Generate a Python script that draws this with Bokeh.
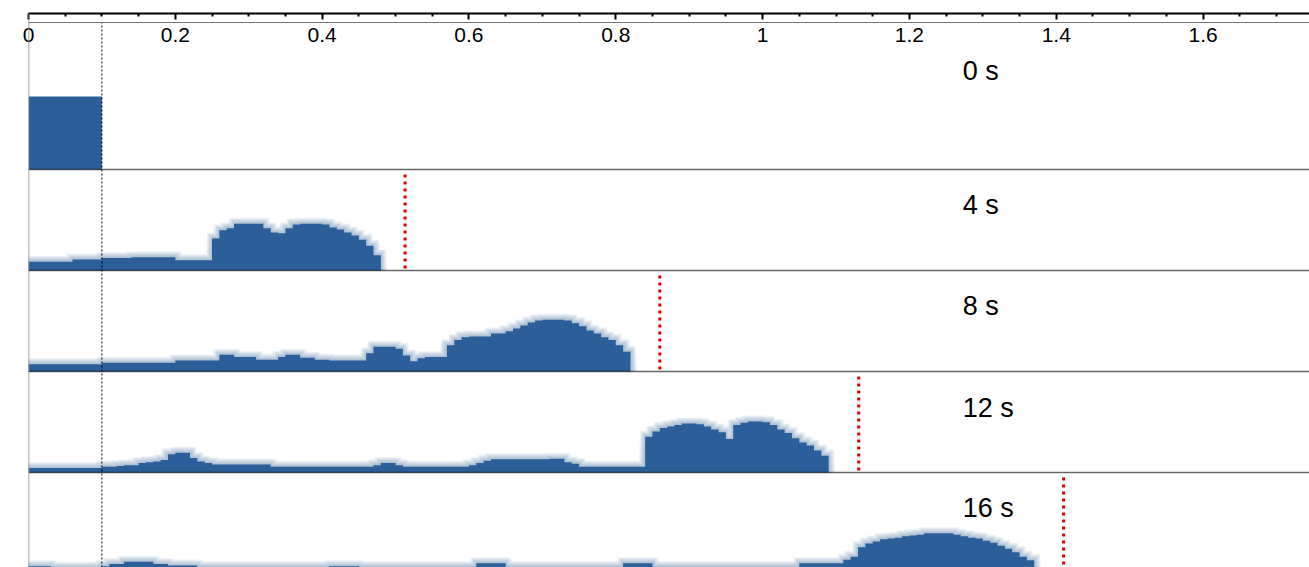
import numpy as np
from bokeh.plotting import figure
from bokeh.models import Range1d, Span, FixedTicker
from bokeh.core.properties import value
from bokeh.embed import file_html
from bokeh.resources import INLINE

# ---------------------------------------------------------------------------
# Data: concentration profiles (histogram bins of width 0.01, normalised so
# that the initial pulse has height 1) at successive times.
# ---------------------------------------------------------------------------
bin_width = 0.01
injection_end = 0.1
time_labels = ["0 s", "4 s", "8 s", "12 s", "16 s"]

conc_0s = [1.0, 1.0, 1.0, 1.0, 1.0, 1.0, 1.0, 1.0, 1.0, 1.0]

conc_4s = [
    0.12, 0.12, 0.12, 0.12, 0.12, 0.12, 0.15, 0.15, 0.15, 0.15,
    0.17, 0.17, 0.17, 0.17, 0.18, 0.18, 0.18, 0.18, 0.18, 0.18,
    0.14, 0.14, 0.14, 0.14, 0.14, 0.44, 0.55, 0.58, 0.64, 0.64,
    0.64, 0.64, 0.58, 0.52, 0.51, 0.58, 0.63, 0.64, 0.64, 0.64,
    0.63, 0.59, 0.56, 0.52, 0.48, 0.42, 0.34, 0.21,
]

conc_8s = [
    0.10, 0.10, 0.10, 0.10, 0.10, 0.10, 0.10, 0.10, 0.10, 0.10,
    0.12, 0.12, 0.12, 0.12, 0.12, 0.12, 0.12, 0.12, 0.12, 0.12,
    0.15, 0.15, 0.15, 0.15, 0.15, 0.15, 0.23, 0.23, 0.20, 0.20,
    0.20, 0.16, 0.16, 0.16, 0.20, 0.23, 0.23, 0.19, 0.19, 0.16,
    0.16, 0.15, 0.15, 0.15, 0.15, 0.15, 0.25, 0.34, 0.34, 0.34,
    0.31, 0.22, 0.14, 0.18, 0.20, 0.20, 0.20, 0.36, 0.43, 0.47,
    0.48, 0.48, 0.48, 0.52, 0.52, 0.55, 0.59, 0.63, 0.67, 0.70,
    0.71, 0.71, 0.71, 0.70, 0.66, 0.62, 0.56, 0.52, 0.47, 0.43,
    0.36, 0.27,
]

conc_12s = [
    0.06, 0.06, 0.06, 0.06, 0.06, 0.06, 0.06, 0.06, 0.06, 0.06,
    0.08, 0.08, 0.09, 0.10, 0.10, 0.13, 0.14, 0.15, 0.17, 0.25,
    0.27, 0.27, 0.20, 0.15, 0.13, 0.11, 0.11, 0.11, 0.11, 0.11,
    0.11, 0.11, 0.11, 0.08, 0.08, 0.08, 0.08, 0.08, 0.08, 0.08,
    0.08, 0.08, 0.08, 0.08, 0.08, 0.08, 0.08, 0.10, 0.13, 0.13,
    0.10, 0.08, 0.08, 0.08, 0.08, 0.08, 0.08, 0.08, 0.08, 0.08,
    0.10, 0.13, 0.16, 0.18, 0.18, 0.18, 0.18, 0.18, 0.18, 0.18,
    0.18, 0.19, 0.19, 0.14, 0.12, 0.08, 0.08, 0.08, 0.08, 0.08,
    0.08, 0.08, 0.08, 0.08, 0.49, 0.56, 0.61, 0.63, 0.65, 0.67,
    0.67, 0.66, 0.63, 0.59, 0.55, 0.46, 0.65, 0.68, 0.70, 0.70,
    0.69, 0.65, 0.59, 0.54, 0.47, 0.41, 0.37, 0.30, 0.23,
]

conc_16s = [
    0.10, 0.10, 0.10, 0.08, 0.08, 0.08, 0.08, 0.08, 0.08, 0.08,
    0.10, 0.13, 0.13, 0.16, 0.16, 0.16, 0.16, 0.13, 0.13, 0.11,
    0.11, 0.11, 0.11, 0.085, 0.085, 0.085, 0.085, 0.085, 0.085, 0.085,
    0.085, 0.085, 0.085, 0.085, 0.085, 0.085, 0.085, 0.085, 0.085, 0.085,
    0.085, 0.10, 0.10, 0.10, 0.10, 0.085, 0.085, 0.085, 0.085, 0.085,
    0.085, 0.085, 0.085, 0.085, 0.085, 0.085, 0.085, 0.085, 0.085, 0.085,
    0.085, 0.14, 0.14, 0.14, 0.14, 0.085, 0.085, 0.085, 0.085, 0.085,
    0.085, 0.085, 0.085, 0.085, 0.085, 0.085, 0.085, 0.085, 0.085, 0.085,
    0.085, 0.14, 0.14, 0.14, 0.14, 0.09, 0.09, 0.09, 0.09, 0.09,
    0.09, 0.09, 0.09, 0.09, 0.09, 0.09, 0.09, 0.09, 0.09, 0.09,
    0.09, 0.09, 0.09, 0.09, 0.09, 0.14, 0.14, 0.14, 0.14, 0.14,
    0.14, 0.19, 0.23, 0.36, 0.41, 0.44, 0.47, 0.48, 0.49, 0.51,
    0.52, 0.53, 0.55, 0.55, 0.55, 0.55, 0.53, 0.51, 0.49, 0.48,
    0.45, 0.42, 0.38, 0.34, 0.29, 0.23, 0.18,
]

profiles = [conc_0s, conc_4s, conc_8s, conc_12s, conc_16s]

# predicted front position for each snapshot (none for the initial pulse)
front_positions = [None, 0.513, 0.860, 1.131, 1.410]

tick_values = [0, 0.2, 0.4, 0.6, 0.8, 1.0, 1.2, 1.4, 1.6]
tick_labels = ["0", "0.2", "0.4", "0.6", "0.8", "1", "1.2", "1.4", "1.6"]
minor_tick_values = [
    0.05, 0.1, 0.15, 0.25, 0.3, 0.35, 0.45, 0.5, 0.55, 0.65, 0.7, 0.75,
    0.85, 0.9, 0.95, 1.05, 1.1, 1.15, 1.25, 1.3, 1.35, 1.45, 1.5, 1.55,
    1.65, 1.7,
]

# ---------------------------------------------------------------------------
# Layout of the stacked strips (one shared plot, each strip offset upward)
# ---------------------------------------------------------------------------
BLUE = "#2c5f99"
PX_PER_UNIT = 73.0            # screen pixels per concentration unit
FRAME_W = 1281
X_END = 1.745
px_x = X_END / FRAME_W        # data-x per screen pixel
px_y = 1.0 / PX_PER_UNIT      # data-y per screen pixel

slot = 101 * px_y                         # height of one strip
bases = [(4 - k) * slot for k in range(5)]
top_strip_top = bases[0] + 147 * px_y
label_offsets = [99 * px_y, 66 * px_y, 66 * px_y, 65 * px_y, 66 * px_y]

p = figure(
    width=1309, height=567,
    x_range=Range1d(0, X_END),
    y_range=Range1d(6 * px_y, 560 * px_y),
    x_axis_location="above", y_axis_location=None,
    output_backend="svg", toolbar_location=None,
    min_border_left=28, min_border_right=0,
    min_border_top=13, min_border_bottom=0,
)
p.outline_line_color = None
p.grid.visible = False
p.background_fill_color = "white"
p.border_fill_color = "white"

p.xaxis.ticker = FixedTicker(ticks=tick_values, minor_ticks=minor_tick_values)
p.xaxis.major_label_overrides = {v: s for v, s in zip(tick_values, tick_labels)}
p.xaxis.axis_line_color = "black"
p.xaxis.axis_line_width = 2
p.xaxis.major_tick_in = 6
p.xaxis.major_tick_out = 0
p.xaxis.major_tick_line_width = 2
p.xaxis.major_tick_line_color = "black"
p.xaxis.minor_tick_in = 3
p.xaxis.minor_tick_out = 0
p.xaxis.minor_tick_line_width = 2
p.xaxis.minor_tick_line_color = "black"
p.xaxis.major_label_standoff = -28
p.xaxis.major_label_text_font = "Liberation Sans"
p.xaxis.major_label_text_font_size = "21px"
p.xaxis.major_label_text_color = "black"


def draw_profile(values, base, soft=True):
    vals = np.asarray(values, dtype=float)
    n = len(vals)
    edges = np.arange(n + 1) * bin_width
    if soft:
        # soft rim: stacked translucent copies, each dilated by r pixels
        cols = np.arange(-10, int(round(n * bin_width / px_x)) + 12)
        xc = (cols + 0.5) * px_x
        idx = np.floor(xc / bin_width).astype(int)
        inside = (idx >= 0) & (idx < n)
        h = np.where(inside, vals[np.clip(idx, 0, n - 1)], 0.0)
        for r in range(1, 7):
            d = h.copy()
            for s in range(1, r + 1):
                d = np.maximum(d, np.roll(h, s))
                d = np.maximum(d, np.roll(h, -s))
            top = np.where(d > 0, d + r * px_y, 0.0)
            p.varea(x=xc, y1=base, y2=base + top,
                    fill_color=BLUE, fill_alpha=0.075)
    p.varea_step(x=edges, y1=base, y2=base + np.append(vals, vals[-1]),
                 step_mode="after", fill_color=BLUE)


for k, prof in enumerate(profiles):
    draw_profile(prof, bases[k], soft=(k > 0))

# strip separators and frame
for k in range(4):
    p.add_layout(Span(location=bases[k], dimension="width",
                      line_color="black", line_alpha=0.6, line_width=1.5))
p.add_layout(Span(location=top_strip_top, dimension="width",
                  line_color="#777777", line_width=1.2))
p.add_layout(Span(location=0, dimension="height",
                  line_color="#888888", line_width=1.5))

# end of the injected pulse
p.segment(x0=[injection_end], x1=[injection_end],
          y0=[6 * px_y], y1=[top_strip_top],
          line_color="black", line_width=1, line_dash="2 2")

# predicted fronts
fx, fy0, fy1 = [], [], []
for k, xf in enumerate(front_positions):
    if xf is None:
        continue
    fx.append(xf)
    fy0.append(bases[k] + 2 * px_y)
    fy1.append(bases[k] + slot - 3 * px_y)
p.segment(x0=fx, x1=fx, y0=fy0, y1=fy1,
          line_color="#dd0000", line_width=3, line_dash="3 4")

# time stamps
p.text(x=[1.2725] * 5,
       y=[b + o for b, o in zip(bases, label_offsets)],
       text=time_labels,
       text_font=value("Liberation Sans"), text_font_size="27px",
       text_align="left", text_baseline="middle", text_color="black")

open("out.html", "w").write(file_html(p, INLINE))
